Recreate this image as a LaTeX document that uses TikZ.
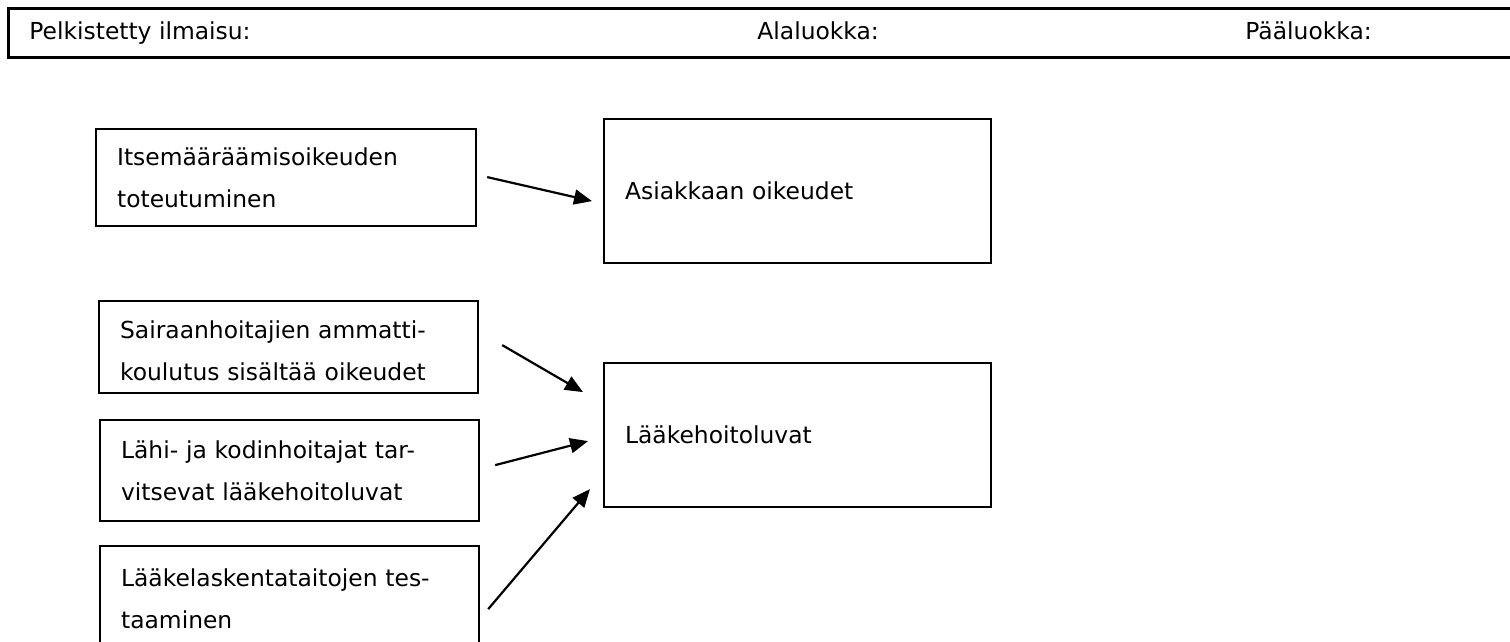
\documentclass[tikz,border=0pt]{standalone}
\usepackage{fontspec}
\setmainfont{DejaVu Sans}
\usetikzlibrary{arrows.meta}

\tikzset{
  txt/.style={font=\fontsize{11.7}{21}\selectfont, inner sep=0pt},
  frame/.style={draw=black, line width=1.1pt},
  catbox/.style={frame, rectangle, anchor=north west, inner xsep=10.5pt, inner ysep=0pt,
    align=left, font=\fontsize{11.7}{21}\selectfont},
  link/.style={line width=1.1pt, -{Triangle[length=9pt,width=7.5pt]}}
}

\begin{document}
\begin{tikzpicture}[x=0.5pt,y=-0.5pt]
  \useasboundingbox (0,0) rectangle (1510,642);
  \clip (0,0) rectangle (1510,642);

  % header strip, open to the right
  \node[frame, line width=1.3pt, anchor=north west, minimum width=1530*0.5pt,
        minimum height=49*0.5pt, inner sep=0pt] (hdr) at (7,7) {};
  \node[txt, anchor=base west] (h1) at (29,40) {Pelkistetty ilmaisu:};
  \node[txt, anchor=base west] (h2) at (757,40) {Alaluokka:};
  \node[txt, anchor=base west] (h3) at (1245,40) {Pääluokka:};

  % reduced expressions
  \node[catbox, minimum width=190pt, minimum height=48.5pt, text width=169pt] (b1) at (95,128)
    {Itsemääräämisoikeuden\\toteutuminen};
  \node[catbox, minimum width=189.5pt, minimum height=46pt, text width=168.5pt] (b2) at (98,300)
    {\rule{0pt}{12.9pt}Sairaanhoitajien ammatti-\\koulutus sisältää oikeudet};
  \node[catbox, minimum width=189.5pt, minimum height=50.5pt, text width=168.5pt] (b3) at (99,419)
    {Lähi- ja kodinhoitajat tar-\\vitsevat lääkehoitoluvat};
  \node[catbox, minimum width=189.5pt, minimum height=53pt, text width=168.5pt] (b4) at (99,545)
    {Lääkelaskentataitojen tes-\\taaminen};

  % subcategories
  \node[catbox, minimum width=193.5pt, minimum height=72pt, text width=172.5pt] (asi) at (603,118)
    {Asiakkaan oikeudet};
  \node[catbox, minimum width=193.5pt, minimum height=72pt, text width=172.5pt] (laa) at (603,362)
    {Lääkehoitoluvat};

  % connectors
  \draw[link] ([shift={(10,-0.5)}]b1.east) -- ([shift={(-11,10)}]asi.west);
  \draw[link] ([shift={(23,-2)}]b2.east) -- ([shift={(-20,-43)}]laa.west);
  \draw[link] ([shift={(15,-5.5)}]b3.east) -- ([shift={(-15,6)}]laa.west);
  \draw[link] ([shift={(8,10)}]b4.east) -- ([shift={(-13,54)}]laa.west);
\end{tikzpicture}
\end{document}
